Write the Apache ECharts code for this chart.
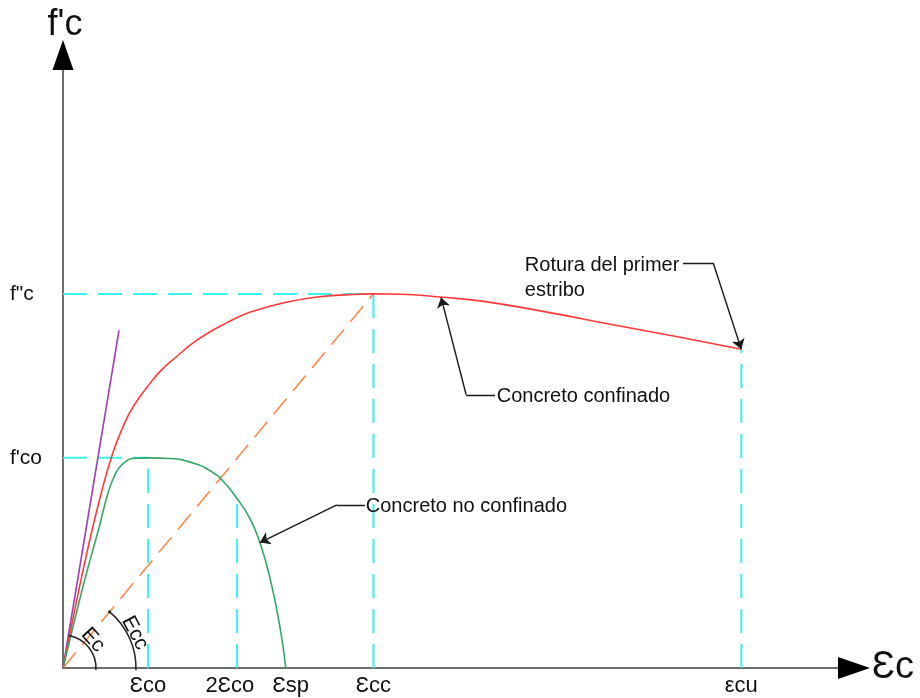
<!DOCTYPE html>
<html>
<head>
<meta charset="utf-8">
<script src="https://cdn.jsdelivr.net/npm/echarts@6/dist/echarts.min.js"></script>
<style>
  html, body { margin: 0; padding: 0; background: #ffffff; }
  #chart { width: 920px; height: 698px; }
</style>
</head>
<body>
<div id="chart"></div>
<script>
// Strain in per mil, stress in MPa (schematic Mander-type stress-strain diagram)
const strainTickValues = [2.0, 4.09, 5.24, 7.3, 15.95];
const strainTickLabels = ['Ɛco', '2Ɛco', 'Ɛsp', 'Ɛcc', 'εcu'];
const stressTickValues = [30, 53.4];
const stressTickLabels = ["f'co", 'f"c'];

// Confined concrete
const confinedStrain = [0, 0.28, 0.56, 0.85, 1.15, 1.41, 1.65, 1.98, 2.28, 2.68, 3.06, 3.46, 3.86, 4.23, 4.63, 5.17, 5.97, 6.75, 7.3, 7.93, 8.87, 9.81, 11.38, 12.93, 14.51, 15.95];
const confinedStress = [0, 8.4, 16.4, 23.8, 30.3, 34.4, 37.3, 40.1, 42.3, 44.5, 46.4, 48.0, 49.3, 50.4, 51.2, 52.1, 52.95, 53.3, 53.4, 53.35, 52.95, 52.4, 50.8, 49.0, 47.2, 45.5];

// Unconfined concrete
const unconfinedStrain = [0, 0.28, 0.56, 0.85, 0.94, 1.08, 1.20, 1.32, 1.46, 1.62, 2.0, 2.52, 3.06, 3.46, 3.76, 4.09, 4.40, 4.63, 4.87, 5.10, 5.24];
const unconfinedStress = [0, 7.0, 13.7, 20.1, 22.3, 25.4, 27.3, 28.6, 29.4, 29.9, 30.0, 29.9, 29.25, 28.15, 26.7, 24.2, 21.3, 17.9, 12.8, 5.9, 0];

// Initial tangent modulus Ec and secant modulus Ecc
const tangentStrain = [0, 1.317];
const tangentStress = [0, 48.2];
const secantStrain = [0, 7.3];
const secantStress = [0, 53.4];

// Reference lines down to the axes
const guideStrain = [[0, 7.3], [0, 2.0], [2.0, 2.0], [4.09, 4.09], [7.3, 7.3], [15.95, 15.95]];
const guideStress = [[53.4, 53.4], [30, 30], [0, 30], [0, 24.2], [0, 53.4], [0, 45.5]];

// Callouts: text, text anchor, elbow, arrow tip
const noteTexts = ['Rotura del primer\nestribo', 'Concreto confinado', 'Concreto no confinado'];
const noteAnchors = [[10.86, 59.3], [10.2, 38.8], [7.12, 23.1]];
const noteElbowStart = [[14.58, 57.8], [10.16, 39.0], [7.10, 23.3]];
const noteElbow = [[15.29, 57.8], [9.48, 39.0], [6.44, 23.3]];
const noteTips = [[15.95, 45.5], [8.89, 52.9], [4.63, 17.9]];

const FONT = "'Liberation Sans', Arial, sans-serif";
const zip = (xs, ys) => xs.map((x, i) => [x, ys[i]]);
const indexOf = (vals, v) => vals.findIndex(t => Math.abs(t - v) < 1e-6);

const chart = echarts.init(document.getElementById('chart'), null, { renderer: 'canvas' });

const option = {
  animation: false,
  backgroundColor: '#ffffff',
  grid: { left: 63, top: 55, width: 791, height: 613 },
  xAxis: {
    type: 'value', min: 0, max: 18.6,
    name: 'Ɛc', nameLocation: 'end', nameGap: 18,
    nameTextStyle: { fontFamily: FONT, fontSize: 38, color: '#111', verticalAlign: 'middle' },
    axisLine: { show: true, onZero: false, lineStyle: { color: '#6e6e6e', width: 2 } },
    axisTick: { show: false },
    splitLine: { show: false },
    axisLabel: {
      customValues: strainTickValues,
      formatter: v => {
        const i = indexOf(strainTickValues, v);
        if (i < 0) return '';
        // small nudges so the labels sit where they are usually typeset
        const style = i === 1 ? 'l' : (i === 2 ? 'r' : 'n');
        return '{' + style + '|' + strainTickLabels[i] + '}';
      },
      rich: {
        n: { fontFamily: FONT, fontSize: 22, color: '#111' },
        l: { fontFamily: FONT, fontSize: 22, color: '#111', padding: [0, 14, 0, 0] },
        r: { fontFamily: FONT, fontSize: 22, color: '#111', padding: [0, 0, 0, 10] }
      },
      margin: 7, fontFamily: FONT, fontSize: 22, color: '#111'
    }
  },
  yAxis: {
    type: 'value', min: 0, max: 87.5,
    name: "f'c", nameLocation: 'end', nameGap: 12,
    nameTextStyle: { fontFamily: FONT, fontSize: 36, color: '#111', align: 'center', padding: [0, 0, 0, 4] },
    axisLine: { show: true, onZero: false, lineStyle: { color: '#6e6e6e', width: 2 } },
    axisTick: { show: false },
    splitLine: { show: false },
    axisLabel: {
      customValues: stressTickValues,
      formatter: v => { const i = indexOf(stressTickValues, v); return i < 0 ? '' : stressTickLabels[i]; },
      align: 'left', margin: 53, fontFamily: FONT, fontSize: 21, color: '#111'
    }
  },
  series: [
    ...guideStrain.map((xs, i) => ({
      type: 'line', data: zip(xs, guideStress[i]), showSymbol: false, silent: true, clip: false, z: 1,
      lineStyle: { color: '#3af2f2', width: 2, type: [24, 11] }
    })),
    {
      type: 'line', name: 'Ecc', data: zip(secantStrain, secantStress), showSymbol: false, clip: false, z: 2,
      lineStyle: { color: '#ff8a4c', width: 1.6, type: [20, 10] }
    },
    {
      type: 'line', name: 'Ec', data: zip(tangentStrain, tangentStress), showSymbol: false, clip: false, z: 3,
      lineStyle: { color: '#9c3fb4', width: 1.6 }
    },
    {
      type: 'line', name: 'Concreto confinado', data: zip(confinedStrain, confinedStress),
      smooth: 0.5, showSymbol: false, clip: false, z: 3,
      lineStyle: { color: '#ff3a3a', width: 1.6 }
    },
    {
      type: 'line', name: 'Concreto no confinado', data: zip(unconfinedStrain, unconfinedStress),
      smooth: 0.5, showSymbol: false, clip: false, z: 3,
      lineStyle: { color: '#33a866', width: 1.6 }
    },
    {
      type: 'lines', coordinateSystem: 'cartesian2d', silent: true, z: 4,
      symbol: 'none',
      lineStyle: { color: '#1a1a1a', width: 1.4, opacity: 1 },
      data: noteElbowStart.map((p, i) => ({ coords: [p, noteElbow[i]] }))
    },
    {
      type: 'lines', coordinateSystem: 'cartesian2d', silent: true, z: 4,
      symbol: ['none', 'arrow'], symbolSize: [0, 10],
      lineStyle: { color: '#1a1a1a', width: 1.4, opacity: 1 },
      data: noteElbow.map((p, i) => ({ coords: [p, noteTips[i]] }))
    }
  ]
};

chart.setOption(option);

// Decorations placed in pixel space around the plotted geometry
const toPx = p => chart.convertToPixel({ gridIndex: 0 }, p);
const o = toPx([0, 0]);
const xEnd = toPx([18.6, 0]);
const yEnd = toPx([0, 87.5]);
const tanEnd = toPx([tangentStrain[1], tangentStress[1]]);
const secEnd = toPx([secantStrain[1], secantStress[1]]);
const angTan = Math.atan2(tanEnd[1] - o[1], tanEnd[0] - o[0]);
const angSec = Math.atan2(secEnd[1] - o[1], secEnd[0] - o[0]);

const polarPt = (r, degUp) => [o[0] + r * Math.cos(degUp * Math.PI / 180), o[1] - r * Math.sin(degUp * Math.PI / 180)];
const ecPos = polarPt(41, 43);
const eccPos = polarPt(80, 26);

const graphics = [
  // axis arrowheads
  { type: 'polygon', z: 10, shape: { points: [[xEnd[0] - 16, xEnd[1] - 11], [xEnd[0] + 16, xEnd[1]], [xEnd[0] - 16, xEnd[1] + 11]] }, style: { fill: '#000' } },
  { type: 'polygon', z: 10, shape: { points: [[yEnd[0] - 10.5, yEnd[1] + 15], [yEnd[0], yEnd[1] - 15], [yEnd[0] + 10.5, yEnd[1] + 15]] }, style: { fill: '#000' } },
  // modulus arcs
  { type: 'arc', z: 10, shape: { cx: o[0], cy: o[1], r: 33, startAngle: angTan, endAngle: 0.06, clockwise: true }, style: { stroke: '#222', lineWidth: 1.5, fill: null } },
  { type: 'arc', z: 10, shape: { cx: o[0], cy: o[1], r: 73, startAngle: angSec, endAngle: 0.03, clockwise: true }, style: { stroke: '#222', lineWidth: 1.5, fill: null } },
  { type: 'circle', z: 10, shape: { cx: o[0] + 73 * Math.cos(angSec), cy: o[1] + 73 * Math.sin(angSec), r: 1.6 }, style: { fill: '#222' } },
  { type: 'text', z: 10, x: ecPos[0], y: ecPos[1], rotation: -48 * Math.PI / 180, style: { text: 'Ec', fontFamily: FONT, fontSize: 21, fill: '#111', align: 'center', verticalAlign: 'middle' } },
  { type: 'text', z: 10, x: eccPos[0], y: eccPos[1], rotation: -62 * Math.PI / 180, style: { text: 'Ecc', fontFamily: FONT, fontSize: 21, fill: '#111', align: 'center', verticalAlign: 'middle' } }
];

noteTexts.forEach((t, i) => {
  const p = toPx(noteAnchors[i]);
  graphics.push({
    type: 'text', z: 10, x: p[0], y: p[1],
    style: { text: t, fontFamily: FONT, fontSize: 20, lineHeight: 25, fill: '#111', align: 'left', verticalAlign: i === 0 ? 'top' : 'middle' }
  });
});

chart.setOption({ graphic: graphics });
</script>
</body>
</html>
